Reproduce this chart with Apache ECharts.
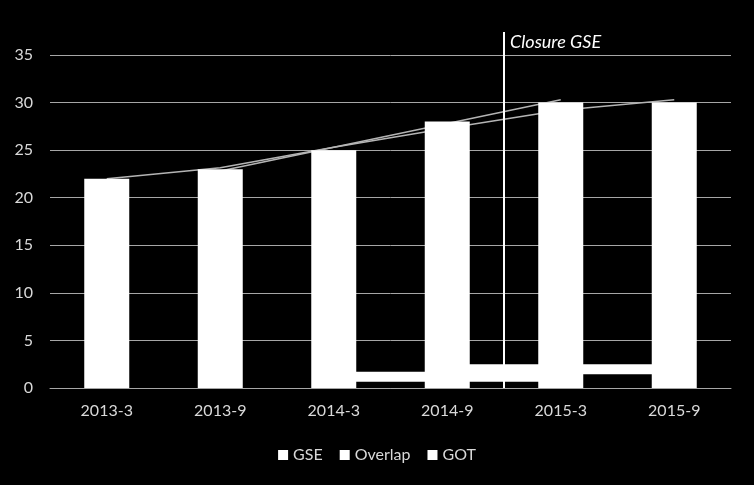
<!DOCTYPE html>
<html>
<head>
<meta charset="utf-8">
<script src="https://cdn.jsdelivr.net/npm/echarts@6/dist/echarts.min.js"></script>
<style>
html,body{margin:0;padding:0;background:#000;}
#chart{width:754px;height:485px;}
</style>
</head>
<body>
<div id="chart"></div>
<script>
// ---- data ----
const categories = ['2013-3', '2013-9', '2014-3', '2014-9', '2015-3', '2015-9'];
const gseValues = [22, 23, 25, 28, 30, 30];
// boundary slots between categories (7 boundaries: edges of the 6 category bands)
const boundarySlots = ['b0', 'b1', 'b2', 'b3', 'b4', 'b5', 'b6'];
const bandBase = ['-', '-', '-', 0.65, 0.65, 1.45, '-'];
const gotValues = ['-', '-', '-', 1.05, 1.85, 0, '-'];
const overlapValues = ['-', '-', '-', 0, 0, 1.05, '-'];
// trend lines
const trendA = [22, 23.15, 25.3, 27.3, 29.2, 30.3];
const trendB = ['-', 22.8, 25.3, 27.8, 30.3, '-'];
const yTicks = [0, 5, 10, 15, 20, 25, 30, 35];
const closureSlotIndex = 4;
const closureTop = 37.4;
const closureLabel = 'Closure GSE';
const emptySlots = ['-', '-', '-', '-', '-', '-', '-'];

const FONT = 'Lato, "Open Sans", sans-serif';
const chart = echarts.init(document.getElementById('chart'));
chart.setOption({
  backgroundColor: '#000000',
  animation: false,
  title: {
    text: closureLabel,
    left: 510, top: 33, padding: 0,
    textStyle: { color: '#ffffff', fontStyle: 'italic', fontWeight: 'normal', fontSize: 18, fontFamily: FONT }
  },
  legend: {
    data: ['GSE', 'Overlap', 'GOT'],
    bottom: 17, left: 'center',
    icon: 'rect', itemWidth: 10, itemHeight: 10, itemGap: 17,
    textStyle: { color: '#d9d9d9', fontSize: 16, fontFamily: FONT }
  },
  grid: [
    { left: 50, right: 23, top: 55, bottom: 97, containLabel: false },
    { left: 50, right: 23, top: 32, bottom: 97, containLabel: false }
  ],
  xAxis: [
    {
      type: 'category', data: categories, gridIndex: 0,
      axisLine: { lineStyle: { color: '#a6a6a6', width: 1 } },
      axisTick: { show: false },
      axisLabel: { color: '#d9d9d9', fontSize: 16, fontFamily: FONT, margin: 15 },
      splitLine: { show: false }
    },
    { type: 'category', data: boundarySlots, boundaryGap: false, show: false, gridIndex: 0 },
    { type: 'category', data: boundarySlots, boundaryGap: false, show: false, gridIndex: 1 }
  ],
  yAxis: [
    {
      type: 'value', min: yTicks[0], max: yTicks[yTicks.length - 1], interval: 5, gridIndex: 0,
      axisLine: { show: false }, axisTick: { show: false },
      axisLabel: { color: '#d9d9d9', fontSize: 16, fontFamily: FONT, margin: 17 },
      splitLine: { lineStyle: { color: '#a6a6a6', width: 1 } }
    },
    { type: 'value', min: 0, max: closureTop, show: false, gridIndex: 1, splitLine: { show: false } }
  ],
  series: [
    {
      name: 'trendA', type: 'line', data: trendA, z: 1, symbol: 'none', silent: true,
      lineStyle: { color: '#b4b4b4', width: 1.5 }
    },
    {
      name: 'trendB', type: 'line', data: trendB, z: 1, symbol: 'none', silent: true,
      lineStyle: { color: '#b4b4b4', width: 1.5 }
    },
    {
      name: 'closure', type: 'line', xAxisIndex: 2, yAxisIndex: 1, data: emptySlots, z: 4,
      symbol: 'none', silent: true,
      markLine: {
        silent: true, symbol: ['none', 'none'], animation: false,
        label: { show: false },
        lineStyle: { color: '#ffffff', width: 2, type: 'solid' },
        data: [[{ coord: [closureSlotIndex, 0] }, { coord: [closureSlotIndex, closureTop] }]]
      }
    },
    {
      name: 'base', type: 'bar', xAxisIndex: 1, stack: 'band', data: bandBase,
      barWidth: 70, z: 2,
      itemStyle: { color: 'rgba(0,0,0,0)' }
    },
    {
      name: 'GOT', type: 'bar', xAxisIndex: 1, stack: 'band', data: gotValues,
      barWidth: 70, z: 2, itemStyle: { color: '#ffffff' }
    },
    {
      name: 'Overlap', type: 'bar', xAxisIndex: 1, stack: 'band', data: overlapValues,
      barWidth: 70, z: 2, itemStyle: { color: '#ffffff' }
    },
    {
      name: 'GSE', type: 'bar', data: gseValues, barWidth: 45, z: 3,
      itemStyle: { color: '#ffffff' }
    }
  ]
});
</script>
</body>
</html>
